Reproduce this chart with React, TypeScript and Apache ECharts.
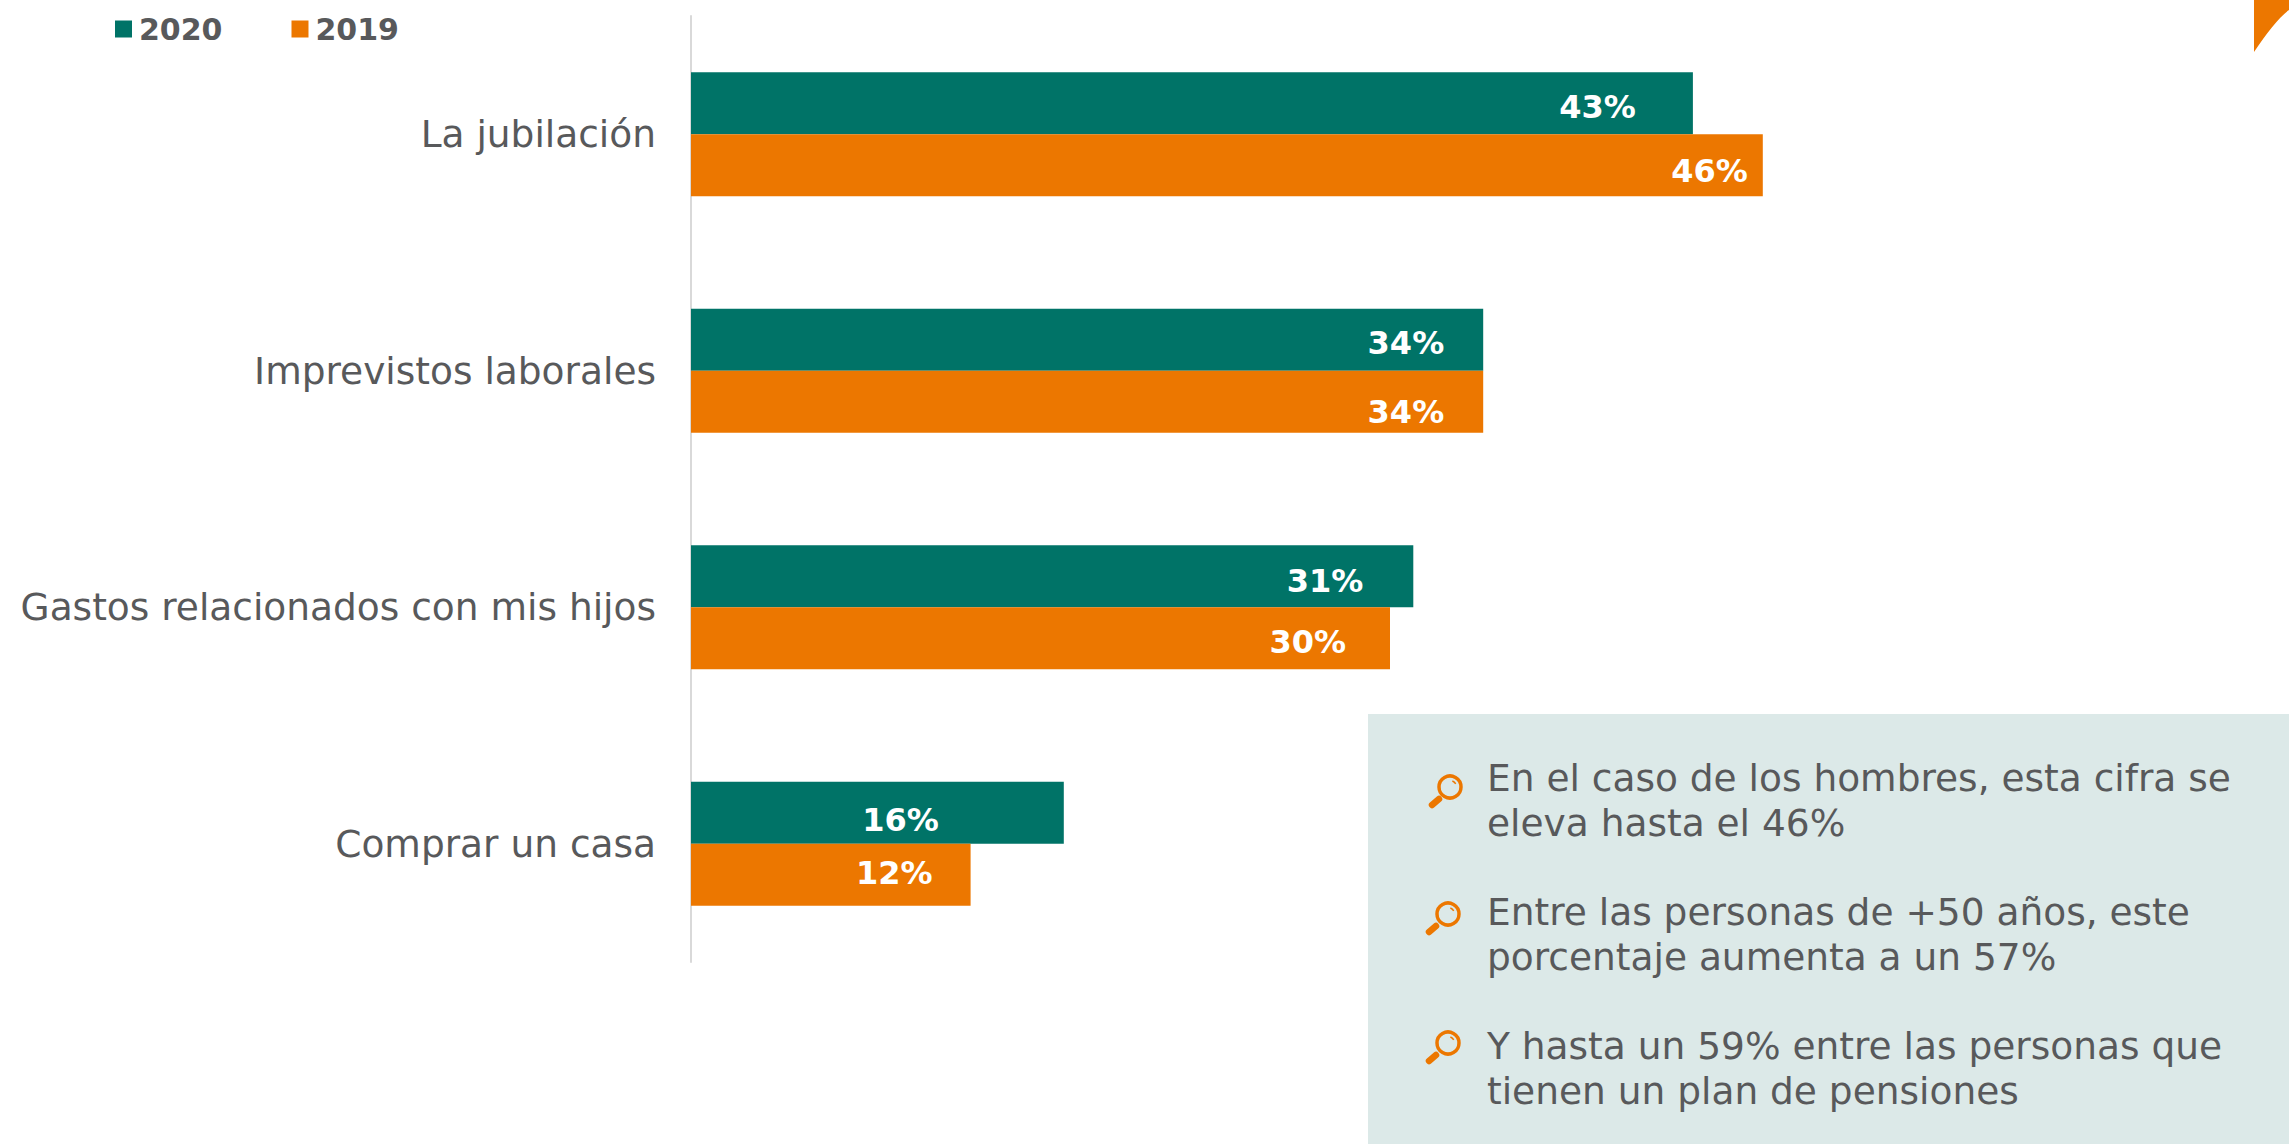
import React, { useEffect, useRef } from "react";
import * as echarts from "echarts";

const categories = ["La jubilación", "Imprevistos laborales", "Gastos relacionados con mis hijos", "Comprar un casa"];
const values2020 = [43, 34, 31, 16];
const values2019 = [46, 34, 30, 12];
const notes = [
  "En el caso de los hombres, esta cifra se\neleva hasta el 46%",
  "Entre las personas de +50 años, este\nporcentaje aumenta a un 57%",
  "Y hasta un 59% entre las personas que\ntienen un plan de pensiones",
];

const labelOffsets2020 = [[-57, 4], [-39, 3], [-50, 5], [-125, 7]];
const labelOffsets2019 = [[-15, 6], [-39, 10], [-44, 4], [-38, -2]];
const noteLayout = [
  { textY: 755, cx: 1450, cy: 787, hx: 1431, hy: 806 },
  { textY: 889, cx: 1448, cy: 914, hx: 1428, hy: 933 },
  { textY: 1023, cx: 1448, cy: 1043, hx: 1428, hy: 1062 },
];

const GREEN = "#007367";
const ORANGE = "#ec7700";
const TEXT = "#58595b";
const FONT = "'DejaVu Sans', Verdana, sans-serif";

echarts.graphic.registerShape(
  "cornerMark",
  echarts.graphic.extendPath("M0 0 L35 0 L35 10 C25 17 13 33 0 52 Z", {}) as any
);

function seriesLabel(offsets: number[][], values: number[]) {
  return values.map((value, i) => ({
    value,
    label: {
      show: true,
      position: "insideRight",
      distance: 0,
      offset: offsets[i],
      formatter: "{c}%",
      color: "#ffffff",
      fontFamily: FONT,
      fontWeight: "bold",
      fontSize: 32,
    },
  }));
}

function icon(n: (typeof noteLayout)[number]) {
  return [
    { type: "circle", shape: { cx: n.cx, cy: n.cy, r: 11 }, style: { fill: "transparent", stroke: ORANGE, lineWidth: 3.5 } },
    { type: "arc", shape: { cx: n.cx, cy: n.cy, r: 6.5, startAngle: -1.2, endAngle: -0.5 }, style: { fill: "none", stroke: ORANGE, lineWidth: 1.5 } },
    { type: "line", shape: { x1: n.hx + 1, y1: n.hy - 1, x2: n.hx + 8, y2: n.hy - 7 }, style: { stroke: ORANGE, lineWidth: 6.5, lineCap: "round" } },
  ];
}

export default function App() {
  const ref = useRef<HTMLDivElement>(null);
  useEffect(() => {
    document.body.style.margin = "0";
    const chart = echarts.init(ref.current!, undefined, { renderer: "svg" });
    chart.setOption({
      animation: false,
      backgroundColor: "#ffffff",
      grid: { left: 691, top: 16, width: 1398, height: 946, containLabel: false },
      legend: {
        left: 115,
        top: 14,
        padding: 0,
        data: ["2020", "2019"],
        icon: "rect",
        itemWidth: 17,
        itemHeight: 17,
        itemGap: 69,
        selectedMode: false,
        textStyle: { color: TEXT, fontFamily: FONT, fontWeight: "bold", fontSize: 30, padding: [0, 0, 0, 2] },
      },
      xAxis: { type: "value", min: 0, max: 60, show: false },
      yAxis: {
        type: "category",
        inverse: true,
        data: categories,
        axisTick: { show: false },
        axisLine: { show: true, lineStyle: { color: "#d9d9d9", width: 2 } },
        axisLabel: { color: TEXT, fontFamily: FONT, fontSize: 37.5, margin: 35 },
      },
      series: [
        { name: "2020", type: "bar", barWidth: 62, barGap: 0, itemStyle: { color: GREEN }, data: seriesLabel(labelOffsets2020, values2020) },
        { name: "2019", type: "bar", barWidth: 62, barGap: 0, itemStyle: { color: ORANGE }, data: seriesLabel(labelOffsets2019, values2019) },
      ],
      graphic: [
        { type: "rect", shape: { x: 1368, y: 714, width: 921, height: 430 }, style: { fill: "#dce9e8" } },
        { type: "cornerMark", x: 2254, y: 0, style: { fill: ORANGE } },
        ...noteLayout.flatMap((n, i) => [
          ...icon(n),
          {
            type: "text",
            x: 1487,
            y: n.textY,
            style: { text: notes[i], fill: TEXT, font: `37.5px ${FONT}`, lineHeight: 45, textAlign: "left", textVerticalAlign: "top" },
          },
        ]),
      ],
    });
    return () => chart.dispose();
  }, []);
  return <div ref={ref} style={{ position: "absolute", left: 0, top: 0, width: 2289, height: 1144 }} />;
}
